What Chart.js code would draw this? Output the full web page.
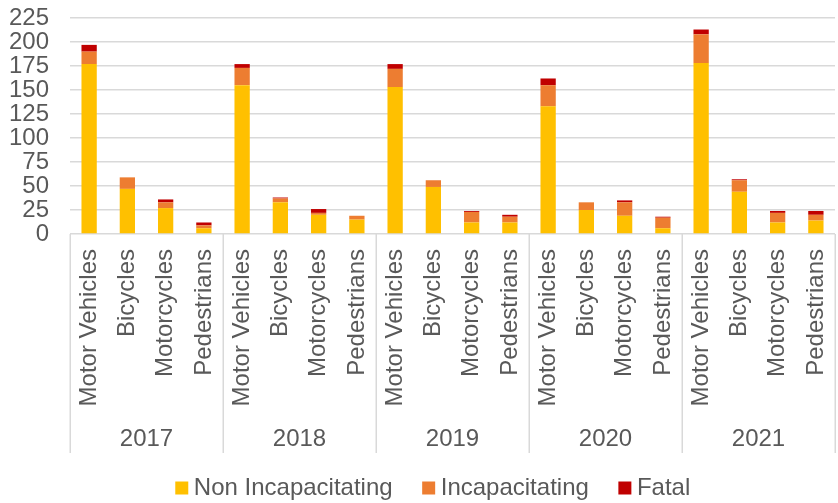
<!DOCTYPE html>
<html>
<head>
<meta charset="utf-8">
<script src="https://cdn.jsdelivr.net/npm/chart.js@4"></script>
<style>
  html, body { margin: 0; padding: 0; background: #ffffff; }
  #wrap { width: 838px; height: 503px; }
</style>
</head>
<body>
<div id="wrap"><canvas id="chart"></canvas></div>
<script>
// Crash injuries by mode of travel, per year, split by severity
const categories = ['Motor Vehicles', 'Bicycles', 'Motorcycles', 'Pedestrians'];
const years = ['2017', '2018', '2019', '2020', '2021'];
const yTicks = [0, 25, 50, 75, 100, 125, 150, 175, 200, 225];

// Values run year by year, in the order of `categories`
const nonIncapacitating = [177, 47, 27, 6, 155, 33, 20, 15, 153, 49, 12, 12, 133, 25, 19, 6, 178, 44, 12, 14];
const incapacitating    = [13, 12, 6, 3, 18, 4, 2, 4, 19, 7, 11, 6, 22, 8, 14, 11, 30, 12, 10, 6];
const fatal             = [7, 0, 3, 3, 4, 1, 4, 0, 5, 0, 1, 2, 7, 0, 2, 1, 5, 1, 2, 4];

const labels = [];
years.forEach(() => categories.forEach(c => labels.push(c)));

const FONT = "'Liberation Sans', Arial, sans-serif";
const TEXT = '#595959';
const GRID = '#d9d9d9';
const SIZE = 24;

// Vertical dividers between the year groups, through both label rows
const groupDividers = {
  id: 'groupDividers',
  afterDraw(chart) {
    const x2 = chart.scales.x2;
    const ctx = chart.ctx;
    const step = x2.width / years.length;
    ctx.save();
    ctx.strokeStyle = GRID;
    ctx.lineWidth = 1.5;
    for (let i = 0; i <= years.length; i++) {
      const px = Math.round(x2.left + i * step) + 0.25;
      ctx.beginPath();
      ctx.moveTo(px, chart.chartArea.bottom);
      ctx.lineTo(px, x2.bottom);
      ctx.stroke();
    }
    ctx.restore();
  }
};

// Nudge the legend row into place under the year labels
const legendOffset = {
  id: 'legendOffset',
  afterLayout(chart) {
    const lg = chart.legend;
    if (!lg) return;
    lg.left += 14; lg.right += 14;
    lg.top -= 13;
    lg.height = lg.bottom - lg.top;
  }
};

// Keep the axes flush with the plot edges
function noSidePadding(scale) {
  scale.paddingLeft = 0;
  scale.paddingRight = 0;
}

new Chart(document.getElementById('chart'), {
  type: 'bar',
  data: {
    labels: labels,
    datasets: [
      { label: 'Non Incapacitating', data: nonIncapacitating, backgroundColor: '#FFC000', borderWidth: 0 },
      { label: 'Incapacitating', data: incapacitating, backgroundColor: '#ED7D31', borderWidth: 0 },
      { label: 'Fatal', data: fatal, backgroundColor: '#C00000', borderWidth: 0 }
    ]
  },
  options: {
    responsive: true,
    maintainAspectRatio: false,
    animation: false,
    datasets: { bar: { categoryPercentage: 1.0, barPercentage: 0.4 } },
    layout: { padding: { top: 18, left: 9, right: 3, bottom: -20 } },
    scales: {
      x: {
        stacked: true,
        weight: 0,
        afterFit(scale) { scale.height = 176; noSidePadding(scale); },
        grid: { display: false, drawOnChartArea: false, drawTicks: false },
        border: { display: false },
        ticks: {
          autoSkip: false, maxRotation: 90, minRotation: 90,
          padding: 15, color: TEXT, font: { family: FONT, size: SIZE }
        }
      },
      x2: {
        type: 'category',
        labels: years,
        position: 'bottom',
        offset: true,
        weight: 1,
        afterFit(scale) { scale.height = 43; noSidePadding(scale); },
        grid: { display: false, drawOnChartArea: false, drawTicks: false },
        border: { display: false },
        ticks: { padding: 15, color: TEXT, font: { family: FONT, size: SIZE } }
      },
      y: {
        stacked: true,
        min: 0, max: 225,
        afterFit(scale) { scale.width = 61; scale.paddingTop = 0; scale.paddingBottom = 0; },
        afterBuildTicks(scale) { scale.ticks = yTicks.map(v => ({ value: v })); },
        grid: { color: GRID, lineWidth: 1.5, drawTicks: false },
        border: { display: false },
        ticks: { autoSkip: false, padding: 21, color: TEXT, font: { family: FONT, size: SIZE } }
      }
    },
    plugins: {
      legend: {
        position: 'bottom',
        labels: {
          usePointStyle: true, pointStyle: 'rect',
          boxWidth: 0.1, boxHeight: 13, padding: 36,
          color: TEXT, font: { family: FONT, size: SIZE }
        }
      },
      tooltip: { enabled: false }
    }
  },
  plugins: [groupDividers, legendOffset]
});
</script>
</body>
</html>
